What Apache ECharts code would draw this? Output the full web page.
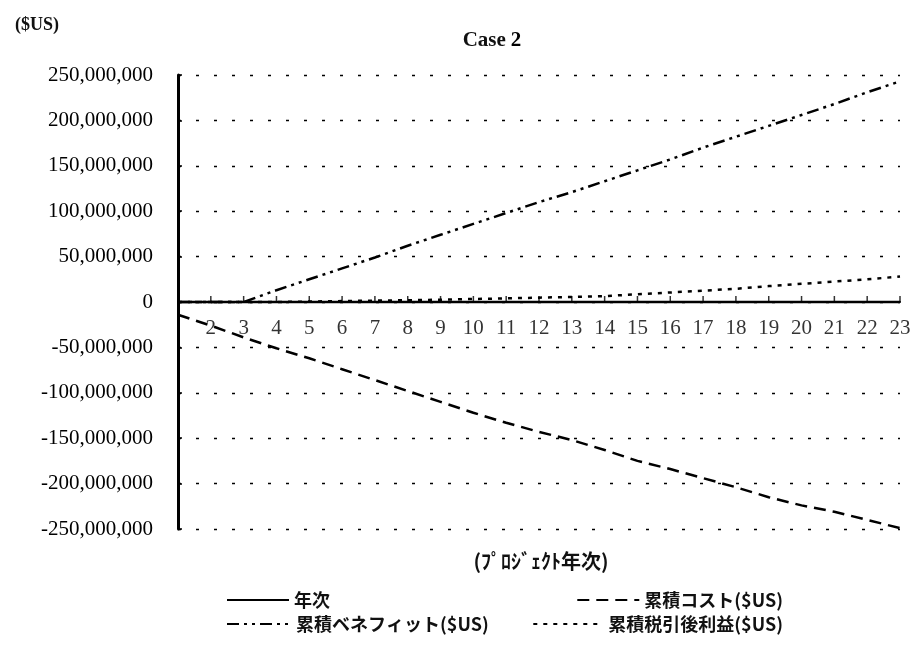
<!DOCTYPE html>
<html>
<head>
<meta charset="utf-8">
<script src="https://cdn.jsdelivr.net/npm/echarts@6/dist/echarts.min.js"></script>
<style>
  html, body { margin: 0; padding: 0; background: #ffffff; }
  #chart { width: 913px; height: 645px; }
</style>
</head>
<body>
<div id="chart"></div>
<script>
// Project years (x axis) and cumulative cash flows in US dollars
var years = [1, 2, 3, 4, 5, 6, 7, 8, 9, 10, 11, 12, 13, 14, 15, 16, 17, 18, 19, 20, 21, 22, 23];
var yearSeries = [1, 2, 3, 4, 5, 6, 7, 8, 9, 10, 11, 12, 13, 14, 15, 16, 17, 18, 19, 20, 21, 22, 23];
var cumulativeCost = [-14e6, -26e6, -39e6, -51e6, -62e6, -74e6, -86e6, -98e6, -110e6, -122e6, -133e6, -143e6,
  -152e6, -163e6, -175e6, -184e6, -194e6, -204e6, -215e6, -224e6, -231e6, -240e6, -249e6];
var cumulativeBenefit = [0, 0, 0, 13e6, 25e6, 37e6, 49e6, 62e6, 74e6, 86e6, 98e6, 110e6,
  121e6, 133e6, 145e6, 157e6, 170e6, 182e6, 194e6, 206e6, 218e6, 231e6, 243e6];
var cumulativeProfit = [0, 0, 0, 0, 0.5e6, 1e6, 1.5e6, 2e6, 2.5e6, 3.3e6, 4e6, 4.8e6,
  5.6e6, 6.5e6, 8.5e6, 10.5e6, 12.5e6, 14.5e6, 17.5e6, 20e6, 22.5e6, 25e6, 28e6];
var yTicks = { min: -250e6, max: 250e6, step: 50e6 };

var seriesNames = ['年次', '累積コスト($US)', '累積ベネフィット($US)', '累積税引後利益($US)'];
var unitLabel = '($US)';
var xAxisTitle = '(ﾌﾟﾛｼﾞｪｸﾄ年次)';

function pairs(values) {
  return years.map(function (y, i) { return [y, values[i]]; });
}

var serif = '"Liberation Serif", "DejaVu Serif", serif';
var cjk = '"Noto Sans CJK JP", "Noto Sans", sans-serif';

function lineSeries(name, values, type, width) {
  return {
    name: name,
    type: 'line',
    data: pairs(values),
    symbol: 'none',
    silent: true,
    color: '#000',
    lineStyle: { color: '#000', width: width, type: type }
  };
}

var legendText = { fontFamily: cjk, fontSize: 18, color: '#111', fontWeight: 'bold' };
function legendAt(name, pos, w) {
  var l = {
    data: [name], itemWidth: w, itemHeight: 12, itemGap: 0,
    padding: 0, textStyle: legendText, selectedMode: false,
    itemStyle: { opacity: 0 }
  };
  for (var k in pos) l[k] = pos[k];
  return l;
}

var chart = echarts.init(document.getElementById('chart'), null, { renderer: 'canvas' });
chart.setOption({
  backgroundColor: '#ffffff',
  animation: false,
  title: [
    { text: '{a|Case} {b|2}', left: 487, top: 25, textAlign: 'center',
      textStyle: {
        rich: {
          a: { fontFamily: serif, fontSize: 21, fontWeight: 'bold', color: '#111' },
          b: { fontFamily: serif, fontSize: 21, fontWeight: 'bold', color: '#000' }
        }
      } },
    { text: unitLabel, left: 10, top: 11,
      textStyle: { fontFamily: serif, fontSize: 18, fontWeight: 'bold', color: '#111' } },
    { text: xAxisTitle, left: 536, top: 546, textAlign: 'center',
      textStyle: { fontFamily: cjk, fontSize: 20, fontWeight: 'bold', color: '#111' } }
  ],
  legend: [
    legendAt(seriesNames[0], { left: 226, top: 591 }, 62),
    legendAt(seriesNames[1], { right: 130, top: 591 }, 62),
    legendAt(seriesNames[2], { left: 226, top: 615 }, 64),
    legendAt(seriesNames[3], { right: 130, top: 615 }, 70)
  ],
  grid: { left: 178, right: 13, top: 75, bottom: 116, containLabel: false },
  xAxis: {
    type: 'value',
    min: years[0],
    max: years[years.length - 1],
    interval: 1,
    axisLine: { onZero: true, lineStyle: { color: '#000', width: 2 } },
    axisTick: { show: false },
    axisLabel: { show: false },
    splitLine: { show: false }
  },
  yAxis: {
    type: 'value',
    min: yTicks.min,
    max: yTicks.max,
    interval: yTicks.step,
    axisLine: { show: true, lineStyle: { color: '#000', width: 3 } },
    axisTick: { show: true, inside: true, length: 4, lineStyle: { color: '#000', width: 1.5 } },
    axisLabel: {
      margin: 25, color: '#000', fontFamily: serif, fontSize: 21,
      formatter: function (v) { return v === 0 ? '0' : echarts.format.addCommas(v); }
    },
    splitLine: { show: true, lineStyle: { color: '#000', width: 1.3, type: [3, 15] } }
  },
  series: [
    lineSeries(seriesNames[0], yearSeries, 'solid', 2.5),
    lineSeries(seriesNames[1], cumulativeCost, [12, 7], 2.5),
    lineSeries(seriesNames[2], cumulativeBenefit, [12, 5, 3, 5, 3, 5], 2.5),
    lineSeries(seriesNames[3], cumulativeProfit, [4, 6], 2.5),
    {
      // year ticks and year numbers along the zero line
      type: 'scatter',
      silent: true,
      data: years.slice(1).map(function (y) { return [y, 0]; }),
      symbol: 'rect',
      symbolSize: [1.5, 6],
      symbolOffset: [0, -3],
      itemStyle: { color: '#000' },
      label: {
        show: true, position: 'bottom', distance: 16,
        fontFamily: serif, fontSize: 21, color: '#000',
        formatter: function (p) { return String(p.value[0]); }
      },
      z: 5
    }
  ]
});
</script>
</body>
</html>
